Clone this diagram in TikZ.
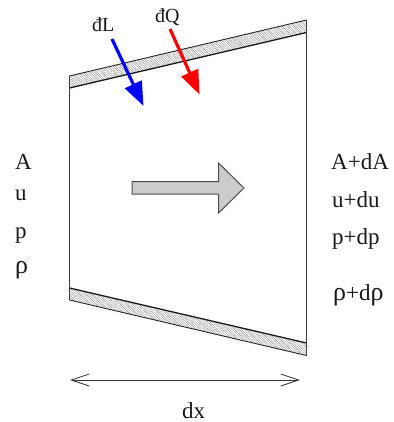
\documentclass[tikz,border=0pt]{standalone}
\usepackage{fontspec}
\setmainfont{Liberation Serif}
\usetikzlibrary{arrows.meta,patterns.meta}
\newcommand{\bigrho}{{\fontsize{26}{26}\selectfont ρ}}
\tikzset{
  big/.style={font=\fontsize{23}{26}\selectfont,anchor=base west,inner sep=0pt,text=black!90},
  small/.style={font=\fontsize{20}{24}\selectfont,anchor=base west,inner sep=0pt,text=black!90},
  wall/.style={pattern={Lines[angle=-45,distance=1.7pt,line width=.4pt]},pattern color=black!45,draw=none},
  thinedge/.style={draw=black!85,line width=.9pt},
  thickedge/.style={draw=black!90,line width=1.3pt},
  side/.style={draw=black!75,line width=1pt},
  heat/.style={line width=3.2pt,-{Triangle[length=24pt,width=18pt]}},
  dim/.style={draw=black!80,line width=.8pt,{Straight Barb[length=18pt,width=12pt]}-{Straight Barb[length=18pt,width=12pt]}},
  flow/.style={fill=black!20,draw=black!70,line width=1pt,line join=miter}
}
\begin{document}
\begin{tikzpicture}[x=1pt,y=-1pt]
\useasboundingbox (0,0) rectangle (393,422);
\coordinate (tlo) at (69.5,76); \coordinate (tro) at (306.5,20);
\coordinate (tli) at (69.5,88); \coordinate (tri) at (306.5,32.5);
\coordinate (bli) at (69.5,288); \coordinate (bri) at (306.5,343);
\coordinate (blo) at (69.5,300); \coordinate (bro) at (306.5,355.5);
\fill[wall] (tlo) -- (tro) -- (tri) -- (tli) -- cycle;
\fill[wall] (bli) -- (bri) -- (bro) -- (blo) -- cycle;
\draw[thinedge] (tlo) -- (tro);
\draw[thickedge] (tli) -- (tri);
\draw[thickedge] (bli) -- (bri);
\draw[thinedge] (blo) -- (bro);
\draw[side] (tlo) -- (blo);
\draw[side] (tro) -- (bro);
\draw[flow] (132,181.5) -- (218.5,181.5) -- (218.5,163) -- (244,188) -- (218.5,213) -- (218.5,194) -- (132,194) -- cycle;
\coordinate (bs) at (112,39); \coordinate (be) at (143.5,106);
\coordinate (rs) at (170,29); \coordinate (re) at (199.5,94.5);
\draw[heat,blue] (bs) -- (be);
\draw[heat,red] (rs) -- (re);
\coordinate (ds) at (70,380); \coordinate (de) at (300,380);
\draw[dim] (ds) -- (de);
\node[small] (dL) at (92,32) {đL};
\node[small] (dQ) at (155,23) {đQ};
\node[big] (la) at (15,169) {A};
\node[big] (lu) at (15,200) {u};
\node[big] (lp) at (15,238) {p};
\node[big] (lr) at (15,273) {\bigrho};
\node[big] (ra) at (331,169) {A+dA};
\node[big] (ru) at (332,207) {u+du};
\node[big] (rp) at (332,244) {p+dp};
\node[big] (rr) at (333,300) {\bigrho+d\bigrho};
\node[big] (dx) at (182,418) {dx};
\end{tikzpicture}
\end{document}
